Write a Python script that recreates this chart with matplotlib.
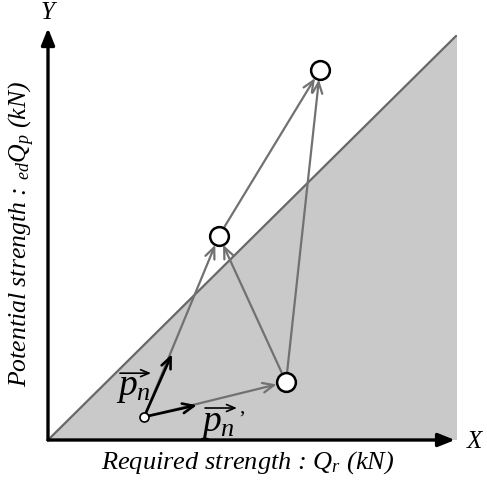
import matplotlib.pyplot as plt

plt.rcParams['mathtext.fontset'] = 'custom'
plt.rcParams['mathtext.it'] = 'Liberation Serif:italic'
plt.rcParams['mathtext.rm'] = 'Liberation Serif'
plt.rcParams['font.family'] = 'Liberation Serif'

# diagram data (arbitrary units, axes run 0..10)
limit_x = [0, 10, 10]
limit_y = [0, 10, 0]
start = (2.35, 0.57)
pts_x = [4.18, 5.82, 6.65]
pts_y = [5.04, 1.43, 9.14]
# moves between states: (from, to); -1 is the start point
moves = [(-1, 0), (-1, 1), (1, 0), (0, 2), (1, 2)]
pn_end = (3.03, 2.12)
pn2_end = (3.64, 0.86)

fig = plt.figure(figsize=(4.87, 4.80), dpi=100)
ax = fig.add_axes([48 / 487, 40 / 480, 409 / 487, 405 / 480])
ax.set_xlim(0, 10)
ax.set_ylim(0, 10)
ax.axis('off')

# shaded region below the line
ax.fill(limit_x, limit_y, color='#c9c9c9', lw=0, zorder=0)
ax.plot([0, 10], [0, 10], color='#686868', lw=1.6, zorder=1)

def node(i):
    return start if i < 0 else (pts_x[i], pts_y[i])

gray = '#717171'
for a, b in moves:
    ax.annotate('', xy=node(b), xytext=node(a),
                arrowprops=dict(arrowstyle='->,head_length=0.8,head_width=0.35',
                                color=gray, lw=1.6,
                                shrinkA=3 if a < 0 else 7, shrinkB=7),
                zorder=2)

# direction vectors
for end in (pn_end, pn2_end):
    ax.annotate('', xy=end, xytext=start,
                arrowprops=dict(arrowstyle='->,head_length=0.8,head_width=0.35',
                                color='black', lw=1.9, shrinkA=3, shrinkB=0),
                zorder=3)

ax.plot(pts_x, pts_y, 'o', ms=13.5, mfc='white', mec='black', mew=1.8,
        zorder=4, clip_on=False)
ax.plot(*start, 'o', ms=6.5, mfc='white', mec='black', mew=1.2, zorder=4)

# axes with arrowheads
ax.annotate('', xy=(9.95, 0), xytext=(0, 0),
            arrowprops=dict(arrowstyle='-|>,head_length=1.0,head_width=0.4',
                            color='black', lw=2.4, shrinkA=0, shrinkB=0),
            annotation_clip=False, zorder=5)
ax.annotate('', xy=(0, 10.17), xytext=(0, 0),
            arrowprops=dict(arrowstyle='-|>,head_length=1.0,head_width=0.4',
                            color='black', lw=2.4, shrinkA=0, shrinkB=0),
            annotation_clip=False, zorder=5)

ax.text(10.42, -0.05, 'X', fontsize=18, style='italic', ha='center', va='center')
ax.text(0, 10.55, 'Y', fontsize=18, style='italic', ha='center', va='center')
ax.text(4.89, -0.56, r'Required strength : $Q_r$ (kN)', fontsize=19,
        style='italic', ha='center', va='center')
ax.text(-0.64, 5.09, r'Potential strength : ${}_{ed}Q_p$ (kN)', fontsize=18.5,
        style='italic', ha='center', va='center', rotation=90)

# vector labels with over-arrows
ax.text(1.66, 1.11, r'$p_n$', fontsize=27, ha='left', va='baseline')
ax.text(3.72, 0.22, r'$p_n$', fontsize=27, ha='left', va='baseline')
ax.text(4.64, 0.50, '\u2019', fontsize=15, ha='left', va='center')
for (x0, x1, y) in [(1.76, 2.52, 1.65), (3.84, 4.62, 0.79)]:
    ax.annotate('', xy=(x1, y), xytext=(x0, y),
                arrowprops=dict(arrowstyle='->,head_length=0.6,head_width=0.25',
                                color='black', lw=1.2, shrinkA=0, shrinkB=0),
                zorder=3)

fig.savefig('out.png', dpi=100)
